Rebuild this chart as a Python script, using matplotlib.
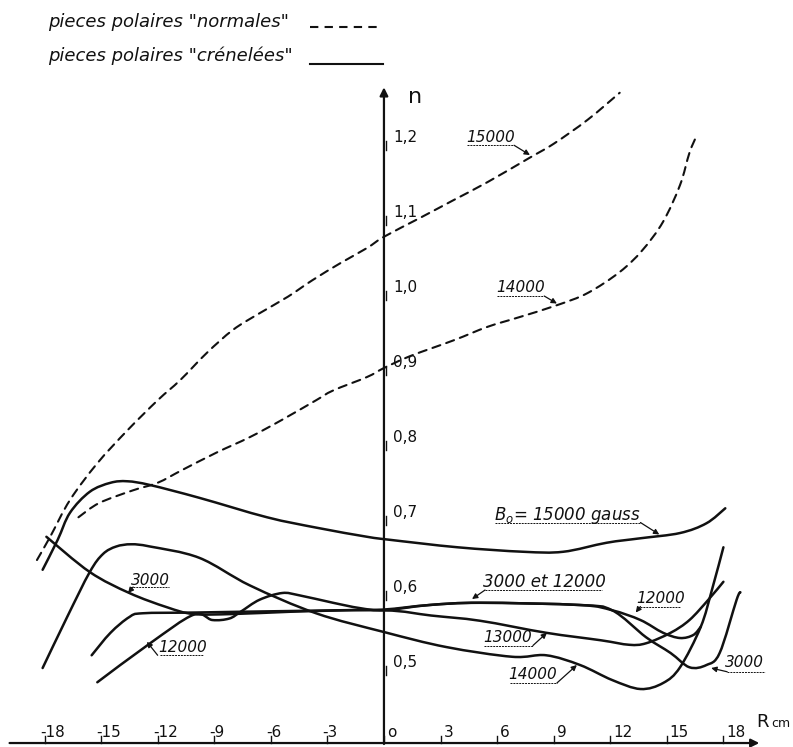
import matplotlib
matplotlib.use("Agg")
import matplotlib.pyplot as plt
from matplotlib.path import Path
from matplotlib.patches import PathPatch

# ---- data: n versus R (cm) ----
# "normales" pole pieces (dashed)
norm15000_x = [-18.4, -17.7, -16.65, -15.2, -13.6, -12.0, -10.8, -9.4, -8.0, -6.6, -5.1, -3.8,
               -2.3, -0.9, 0.0, 1.9, 3.7, 5.5, 7.7, 9.0, 10.8, 12.5]
norm15000_y = [0.644, 0.675, 0.724, 0.773, 0.817, 0.857, 0.884, 0.920, 0.951, 0.973, 0.995, 1.017,
               1.040, 1.060, 1.075, 1.100, 1.124, 1.148, 1.180, 1.199, 1.231, 1.267]

norm14000_x = [-16.2, -15.1, -13.3, -12.0, -10.7, -8.9, -7.1, -5.4, -3.6, -2.7, -0.9, 0.0, 1.4,
               3.7, 5.5, 7.2, 9.2, 10.8, 12.5, 13.7, 14.8, 15.7, 16.2, 16.6]
norm14000_y = [0.701, 0.720, 0.737, 0.747, 0.764, 0.787, 0.808, 0.831, 0.857, 0.870, 0.888, 0.900,
               0.916, 0.937, 0.955, 0.968, 0.984, 1.000, 1.028, 1.057, 1.095, 1.144, 1.187, 1.211]

# "crénelées" pole pieces (solid)
cren15000_x = [-18.1, -17.3, -16.65, -15.6, -14.5, -13.6, -12.4, -9.8, -6.2, -3.55, -0.9, 0.3,
               3.9, 7.4, 9.5, 11.8, 13.6, 15.7, 17.1, 18.1]
cren15000_y = [0.631, 0.671, 0.707, 0.735, 0.747, 0.749, 0.744, 0.727, 0.701, 0.687, 0.675, 0.671,
               0.661, 0.655, 0.655, 0.667, 0.673, 0.680, 0.693, 0.713]

cren14000_x = [-18.1, -16.8, -15.6, -14.9, -14.2, -13.4, -12.4, -9.8, -7.1, -3.6, 0.0, 3.3, 6.8,
               8.6, 10.4, 12.1, 13.6, 14.8, 15.7, 16.8, 17.4, 18.0]
cren14000_y = [0.500, 0.568, 0.628, 0.652, 0.662, 0.665, 0.662, 0.647, 0.610, 0.573, 0.548, 0.528,
               0.515, 0.517, 0.504, 0.484, 0.472, 0.480, 0.501, 0.555, 0.605, 0.661]

cren13000_x = [-15.5, -14.5, -13.5, -12.8, -10.0, -5.0, 0.0, 2.5, 5.1, 8.6, 11.5, 13.0, 13.9,
               15.2, 16.2, 17.2, 18.0]
cren13000_y = [0.517, 0.547, 0.568, 0.573, 0.574, 0.576, 0.577, 0.570, 0.563, 0.547, 0.537, 0.531,
               0.533, 0.547, 0.564, 0.591, 0.615]

cren12000_x = [-15.2, -12.4, -10.1, -9.1, -8.2, -7.6, -6.6, -5.4, -4.5, -2.7, -1.3, 0.0, 2.4,
               5.1, 10.4, 12.1, 13.6, 14.8, 15.7, 16.4, 16.8]
cren12000_y = [0.481, 0.533, 0.571, 0.564, 0.566, 0.575, 0.591, 0.600, 0.597, 0.587, 0.580, 0.577,
               0.584, 0.587, 0.584, 0.577, 0.564, 0.547, 0.540, 0.544, 0.555]

cren3000_x = [-17.9, -15.6, -13.5, -11.5, -10.1, -8.0, -5.0, -2.0, 0.0, 2.4, 5.1, 10.4, 12.1,
              13.9, 15.2, 16.2, 17.1, 17.8, 18.7, 18.9]
cren3000_y = [0.675, 0.628, 0.600, 0.581, 0.572, 0.572, 0.575, 0.577, 0.578, 0.584, 0.587, 0.584,
              0.577, 0.541, 0.520, 0.501, 0.504, 0.520, 0.591, 0.601]

x_ticks = [-18, -15, -12, -9, -6, -3, 0, 3, 6, 9, 12, 15, 18]
y_ticks = [0.5, 0.6, 0.7, 0.8, 0.9, 1.0, 1.1, 1.2]
y_tick_labels = ["0,5", "0,6", "0,7", "0,8", "0,9", "1,0", "1,1", "1,2"]

# ---- figure ----
fig = plt.figure(figsize=(7.93, 7.47), dpi=100)
ax = fig.add_axes([0, 0, 1, 1])
ax.set_xlim(-20.36, 21.69)
ax.set_ylim(0.3947, 1.3907)
ax.axis("off")

INK = "#111111"
FONT = "DejaVu Sans"
dash = (0, (4, 3))


def smooth_curve(xs, ys, **kw):
    """Draw a Catmull-Rom style Bezier path through the given points."""
    pts = list(zip(xs, ys))
    n = len(pts)
    verts = [pts[0]]
    codes = [Path.MOVETO]
    for i in range(n - 1):
        p0 = pts[i - 1] if i > 0 else pts[i]
        p1 = pts[i]
        p2 = pts[i + 1]
        p3 = pts[i + 2] if i + 2 < n else pts[i + 1]
        c1 = (p1[0] + (p2[0] - p0[0]) / 6.0, p1[1] + (p2[1] - p0[1]) / 6.0)
        c2 = (p2[0] - (p3[0] - p1[0]) / 6.0, p2[1] - (p3[1] - p1[1]) / 6.0)
        verts += [c1, c2, p2]
        codes += [Path.CURVE4] * 3
    patch = PathPatch(Path(verts, codes), fill=False, edgecolor=INK, capstyle="round",
                      joinstyle="round", **kw)
    ax.add_patch(patch)


# axes drawn as arrows
ax.annotate("", xy=(20.05, 0.4), xytext=(-20.0, 0.4),
            arrowprops=dict(arrowstyle="-|>", color=INK, lw=1.6, mutation_scale=12))
ax.annotate("", xy=(0, 1.278), xytext=(0, 0.395),
            arrowprops=dict(arrowstyle="-|>", color=INK, lw=1.6, mutation_scale=12))

# x ticks and labels
for v in x_ticks:
    ax.plot([v, v], [0.4, 0.41], color=INK, lw=1.0)
    if v < 0:
        ax.text(v - 0.25, 0.414, "-" + str(abs(v)), ha="left", va="center",
                fontsize=11, family=FONT, color=INK)
    else:
        ax.text(v + 0.15, 0.414, str(v) if v != 0 else "o", ha="left", va="center",
                fontsize=11, family=FONT, color=INK)

# y ticks and labels
for v, lab in zip(y_ticks, y_tick_labels):
    ax.plot([0.1, 0.1], [v - 0.009, v + 0.003], color=INK, lw=1.0)
    ax.text(0.5, v + 0.007, lab, ha="left", va="center", fontsize=11, family=FONT, color=INK)

ax.text(1.25, 1.262, "n", ha="left", va="center", fontsize=16, family=FONT, color=INK)
ax.text(19.75, 0.428, "R", ha="left", va="center", fontsize=13, family=FONT, color=INK)
ax.text(20.55, 0.426, "cm", ha="left", va="center", fontsize=9, family=FONT, color=INK)

# curves
lw = 1.8
smooth_curve(norm15000_x, norm15000_y, lw=1.5, linestyle=dash)
smooth_curve(norm14000_x, norm14000_y, lw=1.5, linestyle=dash)
for xs, ys in [(cren15000_x, cren15000_y), (cren14000_x, cren14000_y),
               (cren13000_x, cren13000_y), (cren12000_x, cren12000_y),
               (cren3000_x, cren3000_y)]:
    smooth_curve(xs, ys, lw=lw)

# legend
ax.text(-17.8, 1.361, 'pieces polaires "normales"', ha="left", va="center",
        fontsize=13, style="italic", family=FONT, color=INK)
ax.plot([-3.9, -0.2], [1.355, 1.355], color=INK, lw=1.5, linestyle=dash)
ax.text(-17.8, 1.317, 'pieces polaires "crénelées"', ha="left", va="center",
        fontsize=13, style="italic", family=FONT, color=INK)
ax.plot([-3.9, -0.05], [1.305, 1.305], color=INK, lw=1.5)


def label(text, tx, ty, ul_x0, ul_x1, ul_y, start, tip, size=11):
    ax.text(tx, ty, text, ha="center", va="center", fontsize=size, style="italic",
            family=FONT, color=INK)
    ax.plot([ul_x0, ul_x1], [ul_y, ul_y], color=INK, lw=0.7, linestyle=(0, (2, 1)))
    ax.annotate("", xy=tip, xytext=start,
                arrowprops=dict(arrowstyle="-|>", color=INK, lw=0.9, mutation_scale=8,
                                shrinkA=0, shrinkB=0))


label("15000", 5.67, 1.208, 4.4, 6.9, 1.197, (6.9, 1.197), (7.74, 1.184))
label("14000", 7.26, 1.007, 6.0, 8.5, 0.996, (8.5, 0.996), (9.17, 0.986))
label("$B_o$= 15000 gauss", 9.75, 0.704, 5.9, 13.6, 0.694, (13.6, 0.694), (14.6, 0.678), size=12)
label("3000 et 12000", 8.5, 0.615, 5.36, 11.56, 0.604, (5.36, 0.604), (4.67, 0.592), size=12)
label("12000", 14.69, 0.593, 13.6, 15.7, 0.582, (13.6, 0.582), (13.35, 0.574))
label("13000", 6.57, 0.541, 5.3, 7.9, 0.530, (7.9, 0.530), (8.64, 0.547))
label("14000", 7.9, 0.491, 6.7, 9.17, 0.480, (9.17, 0.480), (10.23, 0.504))
label("3000", 19.14, 0.507, 18.2, 20.2, 0.495, (18.2, 0.495), (17.35, 0.500))
label("3000", -12.4, 0.617, -13.47, -11.4, 0.608, (-13.3, 0.608), (-13.57, 0.600))
label("12000", -10.7, 0.528, -11.9, -9.6, 0.517, (-12.0, 0.517), (-12.57, 0.535))

fig.savefig("out.png", dpi=100)
